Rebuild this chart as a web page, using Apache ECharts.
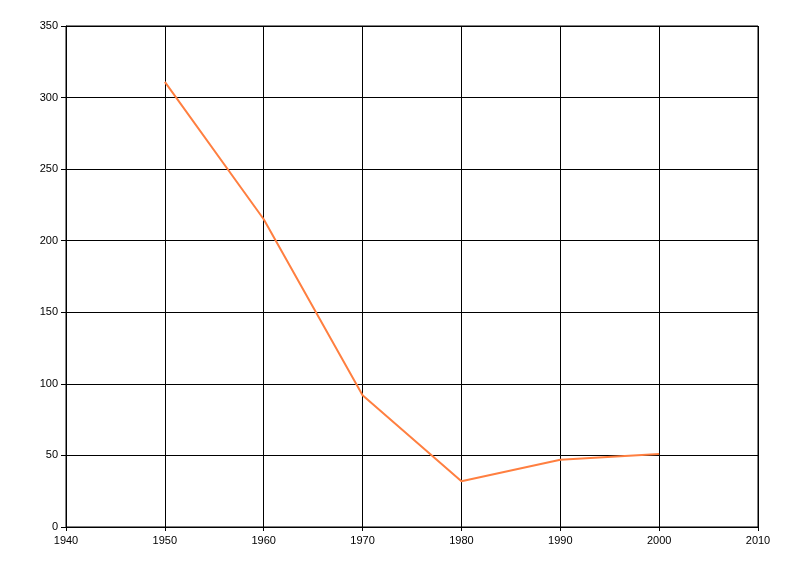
<!DOCTYPE html>
<html>
<head>
<meta charset="utf-8">
<script src="https://cdn.jsdelivr.net/npm/echarts@6/dist/echarts.min.js"></script>
<style>
html, body { margin: 0; padding: 0; background: #fff; }
#chart { width: 800px; height: 576px; }
</style>
</head>
<body>
<div id="chart"></div>
<script>
var years = [1950, 1960, 1970, 1980, 1990, 2000];
var values = [311, 215, 92, 32, 47, 51];

var chart = echarts.init(document.getElementById('chart'));

var points = years.map(function (y, i) { return [y, values[i]]; });

var labelStyle = {
    color: '#000',
    fontFamily: 'Liberation Sans',
    fontSize: 11,
    formatter: function (v) { return String(v); }
};

chart.setOption({
    animation: false,
    grid: {
        left: 66,
        right: 42,
        top: 26,
        bottom: 49,
        show: true,
        borderColor: '#000',
        borderWidth: 1
    },
    xAxis: {
        type: 'value',
        min: 1940,
        max: 2010,
        interval: 10,
        axisLine: { onZero: false, lineStyle: { color: '#000', width: 1 } },
        axisTick: { show: true, length: 4, lineStyle: { color: '#000' } },
        axisLabel: Object.assign({ margin: 8 }, labelStyle),
        splitLine: { show: true, lineStyle: { color: '#000', width: 1 } }
    },
    yAxis: {
        type: 'value',
        min: 0,
        max: 350,
        interval: 50,
        axisLine: { show: true, lineStyle: { color: '#000', width: 1 } },
        axisTick: { show: true, length: 5, lineStyle: { color: '#000' } },
        axisLabel: Object.assign({ margin: 8 }, labelStyle),
        splitLine: { show: true, lineStyle: { color: '#000', width: 1 } }
    },
    series: [
        {
            type: 'line',
            data: points,
            showSymbol: false,
            symbol: 'none',
            lineStyle: { color: '#ff7f40', width: 2 }
        }
    ]
});
</script>
</body>
</html>
